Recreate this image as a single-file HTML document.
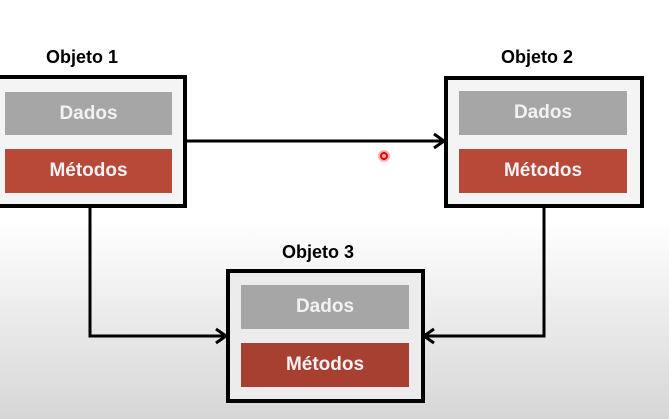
<!DOCTYPE html>
<html><head><meta charset="utf-8"><style>
body{margin:0;width:669px;height:419px;overflow:hidden;background:linear-gradient(to bottom,#fff 0,#fff 220px,#d6d6d6 419px);font-family:"Liberation Sans",sans-serif;position:relative}
.box{position:absolute;border:4px solid #000;background:#f4f4f4;box-sizing:border-box}
.r{position:absolute;color:#f2f2f2;font-weight:bold;font-size:19px;text-align:center;box-sizing:border-box}
.d{background:#a6a6a6}.m{background:#b84838}
.t{position:absolute;font-weight:bold;font-size:18px;color:#000;text-align:center;width:120px}
</style></head><body>
<svg width="669" height="419" style="position:absolute;left:0;top:0">
<g stroke="#000" stroke-width="3" fill="none">
<line x1="186" y1="141" x2="444" y2="141"/>
<polyline points="434,134 444,141 434,148"/>
<polyline points="90,206 90,336 226,336"/>
<polyline points="216,329 226,336 216,343"/>
<polyline points="544,206 544,336 424,336"/>
<polyline points="434,329 424,336 434,343"/>
</g>
<circle cx="384" cy="156" r="6" fill="#f66" opacity="0.5"/>
<circle cx="384" cy="156" r="3" fill="none" stroke="#e00" stroke-width="2"/>
</svg>
<div class="t" style="left:22px;top:47px">Objeto 1</div>
<div class="t" style="left:477px;top:47px">Objeto 2</div>
<div class="t" style="left:258px;top:242px">Objeto 3</div>
<div class="box" style="left:-5px;top:75px;width:192px;height:133px"></div>
<div class="r d" style="left:5px;top:92px;width:167px;height:43px;line-height:43px">Dados</div>
<div class="r m" style="left:5px;top:149px;width:167px;height:44px;line-height:44px">Métodos</div>
<div class="box" style="left:444px;top:76px;width:200px;height:132px"></div>
<div class="r d" style="left:459px;top:91px;width:168px;height:44px;line-height:44px">Dados</div>
<div class="r m" style="left:459px;top:149px;width:168px;height:44px;line-height:44px">Métodos</div>
<div class="box" style="left:226px;top:269px;width:199px;height:134px;background:#ececec"></div>
<div class="r d" style="left:241px;top:285px;width:168px;height:44px;line-height:44px">Dados</div>
<div class="r m" style="left:241px;top:343px;width:168px;height:44px;line-height:44px;background:#a84032">Métodos</div>
</body></html>
